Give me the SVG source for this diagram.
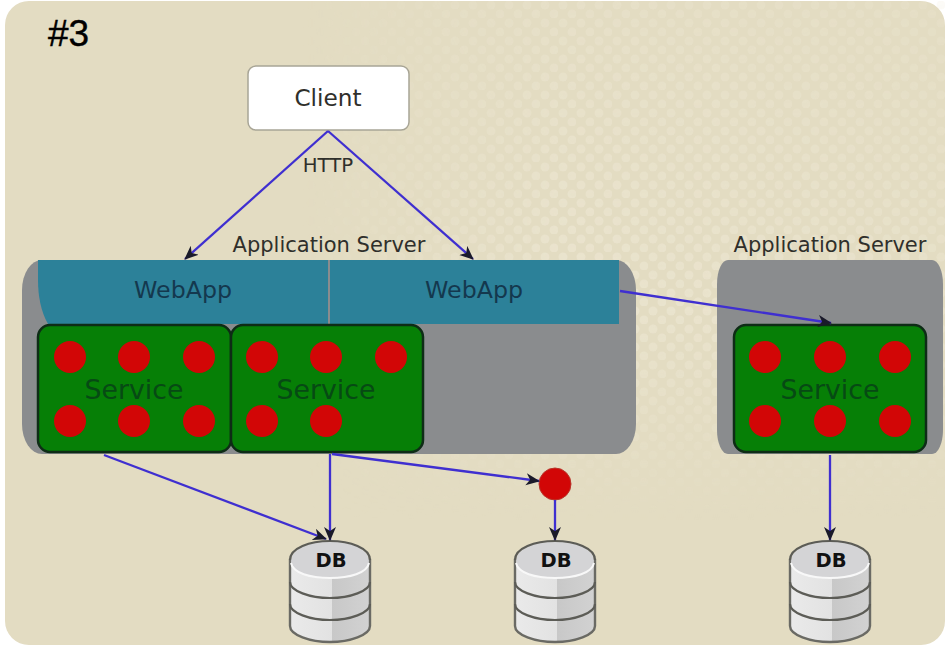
<svg xmlns="http://www.w3.org/2000/svg" width="949" height="646" viewBox="0 0 949 646">
<style>
.lbl{font-family:"DejaVu Sans",sans-serif;fill:#2f2f2b}
.srv{fill:#8a8c8e}
.web{fill:#2c8199}
.svc{fill:#067f06;stroke:#0e2c16;stroke-width:2.5}
.dot{fill:#d20606}
.svct{font-family:"DejaVu Sans",sans-serif;font-size:26.8px;fill:#064a14;text-anchor:middle}
.wt{font-family:"DejaVu Sans",sans-serif;font-size:23.7px;fill:#14384e;text-anchor:middle}
.con{fill:none;stroke:#3f2fd0;stroke-width:2.3;marker-end:url(#arr)}
.dbb{stroke:#6a6a64;stroke-width:2.4}
.dbl{fill:none;stroke:#5c5c56;stroke-width:2.2}
.dbt{font-family:"DejaVu Sans",sans-serif;font-size:19.5px;font-weight:bold;fill:#111;text-anchor:middle}
</style>
<defs>
<marker id="arr" markerWidth="16" markerHeight="14" refX="13" refY="6" orient="auto" markerUnits="userSpaceOnUse"><path d="M0 0L14 6L0 12L4 6Z" fill="#1a1a2a"/></marker>
<pattern id="dots" width="18" height="18" patternUnits="userSpaceOnUse"><circle cx="5" cy="5" r="4.5" fill="#efe9d6"/><circle cx="14" cy="14" r="4.5" fill="#efe9d6"/></pattern>
<linearGradient id="fade" x1="0" x2="1" y1="0" y2="0"><stop offset="0" stop-color="#fff" stop-opacity="0"/><stop offset=".4" stop-color="#fff" stop-opacity=".6"/><stop offset="1" stop-color="#fff" stop-opacity=".4"/></linearGradient>
<linearGradient id="fadev" x1="0" x2="0" y1="0" y2="1"><stop offset="0" stop-color="#fff" stop-opacity=".5"/><stop offset=".6" stop-color="#fff"/><stop offset="1" stop-color="#000"/></linearGradient>
<mask id="mv"><rect x="300" y="0" width="649" height="520" fill="url(#fadev)"/></mask>
<mask id="m"><rect x="300" y="0" width="649" height="520" fill="url(#fade)"/></mask>
<linearGradient id="dbg" x1="0" x2="1" y1="0" y2="0"><stop offset="0" stop-color="#eaeaea"/><stop offset=".53" stop-color="#e2e2e2"/><stop offset=".53" stop-color="#c8c8c8"/><stop offset="1" stop-color="#d2d2d2"/></linearGradient>
<g id="db">
<path class="dbb" fill="url(#dbg)" d="M-40 -31V35C-40 44 -20 51 0 51S40 44 40 35V-31Z"/>
<path class="dbl" d="M-40 -9C-40 0 -20 7 0 7S40 0 40 -9M-40 13C-40 22 -20 29 0 29S40 22 40 13"/>
<ellipse cx="0" cy="-31" rx="39" ry="19" fill="#d4d4d6"/>
<path d="M-39 -28C-37 -18 -20 -13 0 -13S37 -18 39 -28" fill="none" stroke="#f8f8f8" stroke-width="2"/>
<path class="dbl" d="M-40 -31C-40 -43 -20 -50 0 -50S40 -43 40 -31"/>
<text class="dbt" x="1" y="-24">DB</text>
</g>
</defs>
<rect width="949" height="646" fill="#fff"/>
<rect x="5" y="1" width="940" height="644" rx="24" fill="#e3dcc2"/>
<g mask="url(#mv)"><rect x="300" y="1" width="645" height="520" fill="url(#dots)" mask="url(#m)"/></g>
<text x="48" y="46" font-family="Liberation Sans,sans-serif" font-size="37" fill="#000" stroke="#000" stroke-width=".4">#3</text>

<g id="client"><rect x="248" y="66" width="161" height="64" rx="8" fill="#fff" stroke="#a8a596" stroke-width="1.5"/><text class="lbl" x="328" y="106" font-size="23.2" text-anchor="middle">Client</text></g>
<text class="lbl" x="328" y="172" font-size="19.7" text-anchor="middle">HTTP</text>

<g id="server1">
<rect x="22" y="260" width="614" height="194" rx="20" ry="30" class="srv"/>
<text class="lbl" x="329" y="252" font-size="21" text-anchor="middle">Application Server</text>
</g>
<g id="webapp1"><path class="web" d="M38 260H328V324H48C41 312 38 296 38 280Z"/><text class="wt" x="183" y="298">WebApp</text></g>
<g id="webapp2"><rect x="330" y="260" width="289" height="64" class="web"/><text class="wt" x="474" y="298">WebApp</text></g>
<g id="service1"><rect x="38" y="325" width="193" height="127" rx="12" class="svc"/>
<circle class="dot" cx="70" cy="357" r="16"/><circle class="dot" cx="134" cy="357" r="16"/><circle class="dot" cx="199" cy="357" r="16"/><circle class="dot" cx="70" cy="421" r="16"/><circle class="dot" cx="134" cy="421" r="16"/><circle class="dot" cx="199" cy="421" r="16"/>
<text class="svct" x="134" y="399">Service</text></g>
<g id="service2"><rect x="231" y="325" width="192" height="127" rx="12" class="svc"/>
<circle class="dot" cx="262" cy="357" r="16"/><circle class="dot" cx="326" cy="357" r="16"/><circle class="dot" cx="391" cy="357" r="16"/><circle class="dot" cx="262" cy="421" r="16"/><circle class="dot" cx="326" cy="421" r="16"/>
<text class="svct" x="326" y="399">Service</text></g>

<g id="server2">
<rect x="717" y="260" width="226" height="194" rx="11" ry="24" class="srv"/>
<text class="lbl" x="830" y="252" font-size="21" text-anchor="middle">Application Server</text>
</g>
<g id="service3"><rect x="734" y="325" width="192" height="127" rx="12" class="svc"/>
<circle class="dot" cx="765" cy="357" r="16"/><circle class="dot" cx="830" cy="357" r="16"/><circle class="dot" cx="895" cy="357" r="16"/><circle class="dot" cx="765" cy="421" r="16"/><circle class="dot" cx="830" cy="421" r="16"/><circle class="dot" cx="895" cy="421" r="16"/>
<text class="svct" x="830" y="399">Service</text></g>

<g id="dot"><circle cx="555" cy="484" r="16" fill="#d20606" stroke="#b8352a" stroke-width="1"/></g>
<g id="db1"><use href="#db" x="330" y="591"/></g>
<g id="db2"><use href="#db" x="555" y="591"/></g>
<g id="db3"><use href="#db" x="830" y="591"/></g>

<g id="connectors">
<path class="con" d="M328 131L185 259"/>
<path class="con" d="M328 131L473 259"/>
<path class="con" d="M620 291L831 323"/>
<path class="con" d="M104 455L326 539"/>
<path class="con" d="M330 454V540"/>
<path class="con" d="M332 454L539 481"/>
<path class="con" d="M555 500V540"/>
<path class="con" d="M830 455V540"/>
</g>
</svg>
